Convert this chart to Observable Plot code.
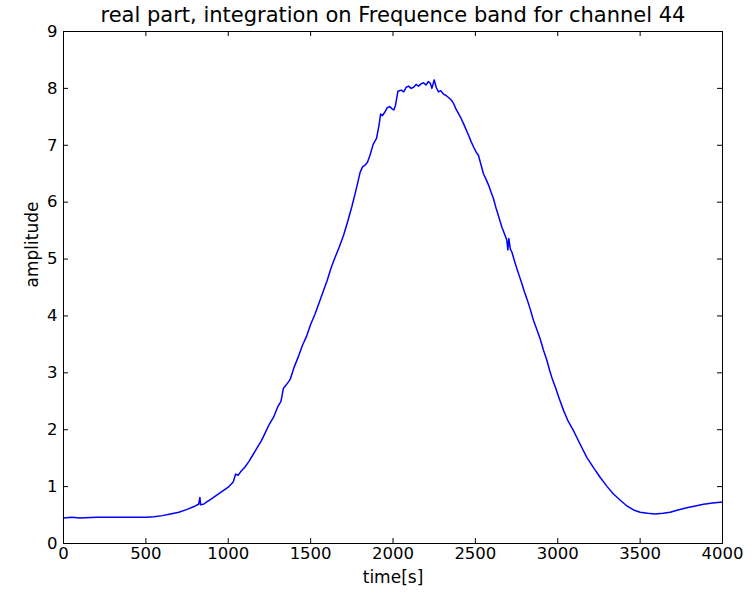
<!DOCTYPE html>
<html>
<head>
<meta charset="utf-8">
<script src="https://cdn.jsdelivr.net/npm/d3@7"></script>
<script src="https://cdn.jsdelivr.net/npm/@observablehq/plot@0.6"></script>
<style>
  html, body { margin: 0; padding: 0; background: #fff; }
  #chart svg { display: block; }
</style>
</head>
<body>
<div id="chart"></div>
<script>
// Integrated real part over the frequency band, channel 44
const times = [
  0, 50, 100, 200, 300, 400, 500, 550, 600, 650, 700, 750, 800, 820, 828, 832, 850, 870, 900, 950,
  1000, 1030, 1045, 1060, 1075, 1100, 1125, 1150, 1175, 1200, 1225, 1250, 1275, 1300, 1320, 1335, 1350, 1375,
  1400, 1425, 1450, 1475, 1500, 1525, 1550, 1575, 1600, 1625, 1650, 1675, 1700, 1725, 1750, 1770, 1785,
  1800, 1815, 1830, 1845, 1860, 1880, 1900, 1915, 1925, 1935, 1950, 1965, 1980, 1995, 2005, 2015, 2030,
  2050, 2065, 2080, 2095, 2110, 2125, 2140, 2155, 2170, 2185, 2200, 2215, 2228, 2236, 2250, 2262, 2276,
  2290, 2306, 2320, 2337, 2352, 2367, 2382, 2397, 2412, 2428, 2443, 2458, 2475, 2489, 2505, 2519, 2535,
  2549, 2565, 2580, 2595, 2610, 2625, 2640, 2661, 2680, 2691, 2697, 2703, 2712, 2722, 2737, 2752, 2767,
  2782, 2797, 2813, 2833, 2853, 2873, 2893, 2913, 2934, 2950, 2964, 2985, 3010, 3035, 3060, 3096, 3130,
  3177, 3220, 3258, 3300, 3338, 3380, 3420, 3460, 3500, 3545, 3591, 3640, 3682, 3730, 3784, 3835, 3885,
  3940, 4000
];
const amplitude = [
  0.45, 0.46, 0.45, 0.46, 0.46, 0.46, 0.46, 0.47, 0.49, 0.52, 0.55, 0.60, 0.66, 0.69, 0.81, 0.68, 0.69, 0.73, 0.79, 0.89,
  0.99, 1.08, 1.22, 1.20, 1.26, 1.34, 1.44, 1.56, 1.68, 1.80, 1.95, 2.10, 2.22, 2.40, 2.50, 2.73, 2.78, 2.88,
  3.10, 3.28, 3.48, 3.64, 3.85, 4.02, 4.22, 4.42, 4.62, 4.85, 5.04, 5.22, 5.42, 5.66, 5.92, 6.15, 6.33,
  6.52, 6.62, 6.65, 6.70, 6.82, 7.02, 7.12, 7.35, 7.55, 7.52, 7.58, 7.66, 7.68, 7.64, 7.62, 7.70, 7.95,
  7.97, 7.94, 8.02, 8.04, 8.00, 8.02, 8.07, 8.04, 8.08, 8.10, 8.06, 8.12, 8.08, 8.00, 8.15, 8.02, 7.94,
  7.96, 7.90, 7.88, 7.84, 7.80, 7.74, 7.64, 7.56, 7.48, 7.38, 7.28, 7.18, 7.06, 6.97, 6.88, 6.82, 6.65,
  6.50, 6.40, 6.30, 6.18, 6.06, 5.90, 5.76, 5.56, 5.42, 5.33, 5.16, 5.36, 5.18, 5.12, 4.97, 4.83, 4.70,
  4.57, 4.43, 4.30, 4.12, 3.92, 3.76, 3.60, 3.40, 3.22, 3.05, 2.92, 2.75, 2.54, 2.34, 2.17, 1.98, 1.78,
  1.51, 1.32, 1.16, 1.00, 0.87, 0.76, 0.66, 0.59, 0.55, 0.53, 0.52, 0.53, 0.55, 0.59, 0.63, 0.66, 0.69,
  0.71, 0.73
];
const xTicks = [0, 500, 1000, 1500, 2000, 2500, 3000, 3500, 4000];
const yTicks = [0, 1, 2, 3, 4, 5, 6, 7, 8, 9];
const title = "real part, integration on Frequence band for channel 44";
const xLabel = "time[s]";
const yLabel = "amplitude";

const series = times.map((t, i) => ({t, a: amplitude[i]}));

const W = 754, H = 597;
const mL = 63, mR = 32, mT = 31, mB = 54;
const innerW = W - mL - mR, innerH = H - mT - mB;
const tickLen = 5;

const chart = Plot.plot({
  width: W,
  height: H,
  marginLeft: mL,
  marginRight: mR,
  marginTop: mT,
  marginBottom: mB,
  style: {fontFamily: "DejaVu Sans, sans-serif", fontSize: "16px", color: "#000", background: "#fff"},
  x: {domain: [0, 4000]},
  y: {domain: [0, 9]},
  marks: [
    Plot.line(series, {x: "t", y: "a", stroke: "#0000ff", strokeWidth: 1.5}),
    // inward ticks on all four sides
    Plot.ruleX(xTicks, {x: d => d, insetTop: innerH - tickLen, stroke: "#000"}),
    Plot.ruleX(xTicks, {x: d => d, insetBottom: innerH - tickLen, stroke: "#000"}),
    Plot.ruleY(yTicks, {y: d => d, insetRight: innerW - tickLen, stroke: "#000"}),
    Plot.ruleY(yTicks, {y: d => d, insetLeft: innerW - tickLen, stroke: "#000"}),
    Plot.frame({stroke: "#000", strokeWidth: 1}),
    Plot.axisX({ticks: xTicks, tickSize: 0, tickPadding: 4, label: null, fontSize: 16.5, tickFormat: d => String(d)}),
    Plot.axisY({ticks: yTicks, tickSize: 0, tickPadding: 6, label: null, fontSize: 16.5, tickFormat: d => String(d)}),
    Plot.text([title], {text: d => d, frameAnchor: "top", dy: -16, fontSize: 21, lineAnchor: "middle"}),
    Plot.text([xLabel], {text: d => d, frameAnchor: "bottom", dy: 34, fontSize: 17, lineAnchor: "middle"}),
    Plot.text([yLabel], {text: d => d, frameAnchor: "left", dx: -31, rotate: -90, fontSize: 17, lineAnchor: "middle"})
  ]
});
document.getElementById("chart").append(chart);
</script>
</body>
</html>
